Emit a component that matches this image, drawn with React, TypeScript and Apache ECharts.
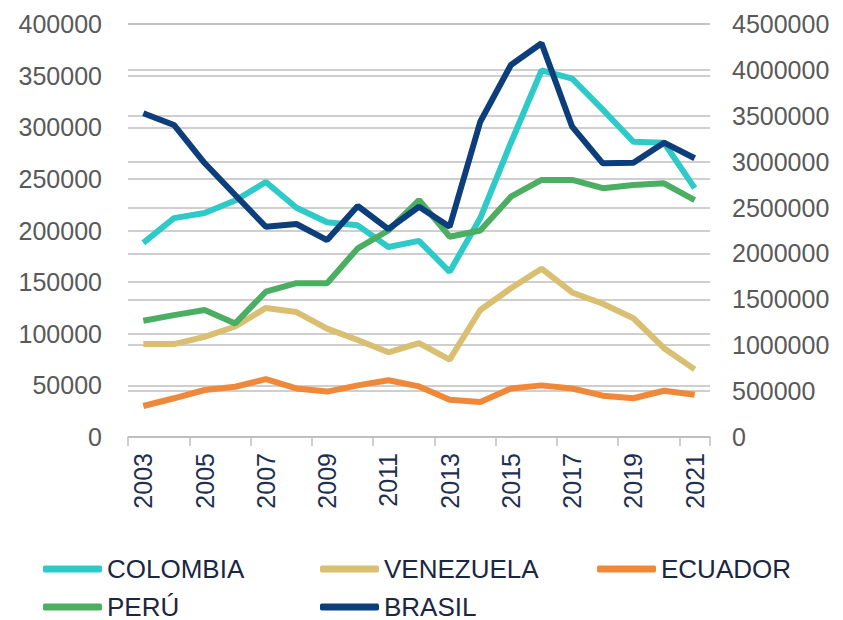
import React, { useEffect, useRef } from "react";
import * as echarts from "echarts";

const years = ["2003","2004","2005","2006","2007","2008","2009","2010","2011","2012","2013","2014","2015","2016","2017","2018","2019","2020","2021"];
const colombia = [188000,212000,217000,229000,247000,222000,208000,205000,184000,190000,160000,212000,285000,355000,347000,317000,286000,285000,241000];
const venezuela = [90000,90000,97000,107000,125000,121000,105000,94000,82000,91000,75000,123000,144000,163000,140000,129000,115000,86000,65500];
const ecuador = [30000,37500,45500,48700,56000,47000,44000,50000,55000,49000,36000,34000,47000,50000,47000,40000,37500,44800,41000];
const peru = [112600,118000,123000,110000,140700,149000,149000,182700,200000,229500,194000,200000,232700,249000,249000,241000,244000,245700,229500];
const brasil = [3527000,3400000,2985000,2637000,2291000,2321000,2146000,2517000,2266000,2509000,2291000,3435000,4053000,4290000,3381000,2982000,2989000,3207000,3037000];

const names = ["COLOMBIA", "VENEZUELA", "ECUADOR", "PERÚ", "BRASIL"];
const colors = ["#2ECAC8", "#D8BF72", "#F0883A", "#4BAE62", "#0C3E7B"];

export default function App() {
  const ref = useRef<HTMLDivElement>(null);
  useEffect(() => {
    if (!ref.current) return;
    const chart = echarts.init(ref.current, null, { renderer: "svg" });
    const font = "Liberation Sans, Arial, sans-serif";
    const mk = (i: number, data: number[], axis: number) => ({
      name: names[i],
      type: "line",
      data,
      yAxisIndex: axis,
      showSymbol: false,
      symbol: "none",
      lineStyle: { color: colors[i], width: 6 },
      itemStyle: { color: colors[i] },
      z: 2 + i,
    });
    const legendCommon = {
      left: 43,
      width: 810,
      padding: 0,
      orient: "horizontal",
      itemGap: 33,
      itemWidth: 59,
      itemHeight: 7,
      icon: "roundRect",
      textStyle: { fontFamily: font, fontSize: 26, color: "#1B2742", width: 180, lineHeight: 22 },
    };
    chart.setOption({
      animation: false,
      backgroundColor: "#ffffff",
      grid: { left: 128, right: 133, top: 24, bottom: 183 },
      legend: [
        { ...legendCommon, top: 556, data: ["COLOMBIA", "VENEZUELA", "ECUADOR"] },
        { ...legendCommon, top: 594, data: ["PERÚ", "BRASIL"] },
      ],
      xAxis: {
        type: "category",
        data: years,
        boundaryGap: true,
        axisLine: { lineStyle: { color: "#BFBFBF", width: 1.5 } },
        axisTick: { show: true, interval: 1, length: 9, lineStyle: { color: "#BFBFBF", width: 1.5 } },
        axisLabel: { interval: 1, rotate: 90, margin: 16, color: "#1E2F50", fontFamily: font, fontSize: 25 },
      },
      yAxis: [
        {
          type: "value",
          min: 0,
          max: 400000,
          interval: 50000,
          axisLine: { show: false },
          axisTick: { show: false },
          axisLabel: { color: "#595959", fontFamily: font, fontSize: 25, margin: 26, formatter: (v: number) => String(v) },
          splitLine: { lineStyle: { color: "#BFBFBF", width: 1.5 } },
        },
        {
          type: "value",
          min: 0,
          max: 4500000,
          interval: 500000,
          position: "right",
          axisLine: { show: false },
          axisTick: { show: false },
          axisLabel: { color: "#595959", fontFamily: font, fontSize: 25, margin: 22, formatter: (v: number) => String(v) },
          splitLine: { show: true, lineStyle: { color: "#BFBFBF", width: 1.5 } },
        },
      ],
      series: [
        mk(0, colombia, 0),
        mk(1, venezuela, 0),
        mk(2, ecuador, 0),
        mk(3, peru, 0),
        mk(4, brasil, 1),
      ],
    });
    return () => chart.dispose();
  }, []);
  return <div ref={ref} style={{ position: "fixed", left: 0, top: 0, width: 843, height: 620 }} />;
}
